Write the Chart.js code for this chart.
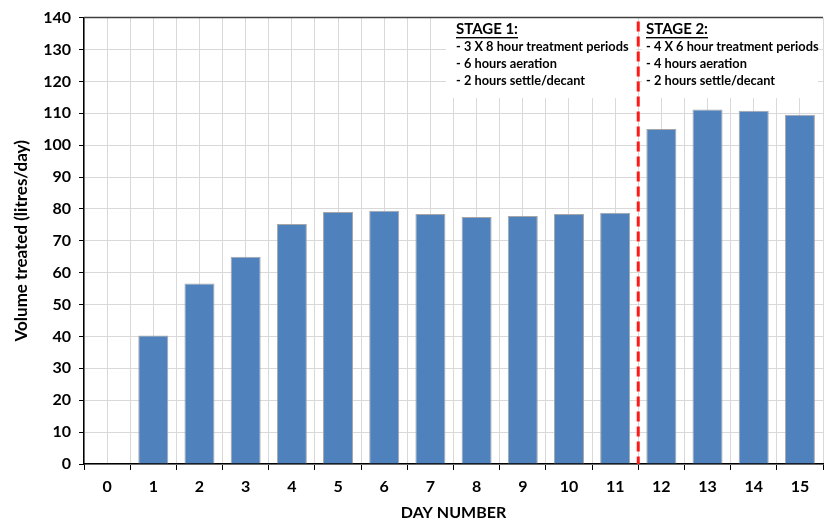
<!DOCTYPE html>
<html>
<head>
<meta charset="utf-8">
<script src="https://cdn.jsdelivr.net/npm/chart.js@4"></script>
<style>
  html, body { margin: 0; padding: 0; background: #fff; }
  #wrap { width: 824px; height: 524px; }
</style>
</head>
<body>
<div id="wrap"><canvas id="volumeChart" width="824" height="524"></canvas></div>
<script>
// 데이터
const days = ['0', '1', '2', '3', '4', '5', '6', '7', '8', '9', '10', '11', '12', '13', '14', '15'];
const volumeTreated = [null, 40.3, 56.6, 65.0, 75.3, 79.0, 79.4, 78.4, 77.5, 77.8, 78.4, 78.8, 105.1, 111.2, 110.8, 109.5];
const stage1Notes = ['STAGE 1:', '- 3 X 8 hour treatment periods', '- 6 hours aeration', '- 2 hours settle/decant'];
const stage2Notes = ['STAGE 2:', '- 4 X 6 hour treatment periods', '- 4 hours aeration', '- 2 hours settle/decant'];

const FONT = 'Lato, "Open Sans", sans-serif';
const gridColor = '#d9d9d9';

// 텍스트 박스와 빨간 점선
const stagePlugin = {
    id: 'stagePlugin',
    beforeDatasetsDraw(chart) {
        const ctx = chart.ctx;
        ctx.save();
        ctx.fillStyle = '#ffffff';
        ctx.fillRect(446, 18, 190, 80);
        ctx.fillRect(642, 18, 176, 80);
        ctx.restore();
    },
    afterDatasetsDraw(chart) {
        const ctx = chart.ctx;
        const area = chart.chartArea;
        const xs = chart.scales.x;
        ctx.save();
        // 위쪽 테두리
        ctx.strokeStyle = '#404040';
        ctx.lineWidth = 1.5;
        ctx.beginPath();
        ctx.moveTo(area.left, area.top);
        ctx.lineTo(area.right, area.top);
        ctx.stroke();

        // 단계 구분선
        const splitX = (xs.getPixelForValue(11) + xs.getPixelForValue(12)) / 2;
        ctx.strokeStyle = '#ff1a1a';
        ctx.lineWidth = 3;
        ctx.setLineDash([10, 5]);
        ctx.beginPath();
        ctx.moveTo(splitX, area.top + 4);
        ctx.lineTo(splitX, area.bottom);
        ctx.stroke();
        ctx.setLineDash([]);

        drawNotes(ctx, stage1Notes, 456);
        drawNotes(ctx, stage2Notes, 646);
        ctx.restore();
    }
};

function drawNotes(ctx, lines, x) {
    ctx.fillStyle = '#000';
    ctx.textAlign = 'left';
    ctx.textBaseline = 'middle';
    lines.forEach((line, i) => {
        const y = 29 + i * 17;
        if (i === 0) {
            ctx.font = 'bold 15px ' + FONT;
            ctx.fillText(line, x, y);
            const w = ctx.measureText(line).width;
            ctx.fillRect(x, y + 8, w, 1.4);
        } else {
            ctx.font = 'bold 12.8px ' + FONT;
            ctx.fillText(line, x, y + 1);
        }
    });
}

const ctx = document.getElementById('volumeChart').getContext('2d');
const volumeChart = new Chart(ctx, {
    type: 'bar',
    data: {
        labels: days,
        datasets: [{
            label: 'Volume treated',
            data: volumeTreated,
            backgroundColor: '#4f81bd',
            borderColor: '#a6a6a6',
            borderWidth: 1,
            barPercentage: 0.65,
            categoryPercentage: 1.0
        }]
    },
    options: {
        responsive: false,
        animation: false,
        layout: { padding: { top: 16, right: 1, left: 0, bottom: 0 } },
        plugins: {
            legend: { display: false },
            tooltip: { enabled: false }
        },
        scales: {
            x: {
                type: 'category',
                offset: true,
                grid: { offset: true, color: gridColor, tickColor: '#000', tickLength: 6 },
                border: { color: '#000', width: 1.5 },
                ticks: { color: '#000', font: { family: FONT, size: 16, weight: 'bold' }, padding: 7, maxRotation: 0 },
                title: {
                    display: true,
                    text: 'DAY NUMBER',
                    color: '#000',
                    font: { family: FONT, size: 16, weight: 'bold' },
                    padding: { top: 0, bottom: 2 }
                },
                afterFit(scale) { scale.height = 60; }
            },
            xc: {
                type: 'category',
                position: 'bottom',
                offset: true,
                grid: { offset: false, color: gridColor, drawTicks: false },
                border: { display: false },
                ticks: { display: false },
                afterFit(scale) { scale.height = 0; }
            },
            y: {
                min: 0,
                max: 140,
                ticks: {
                    stepSize: 5,
                    color: '#000',
                    font: { family: FONT, size: 16, weight: 'bold' },
                    padding: 8,
                    callback: (v) => (v % 10 === 0 ? v : '')
                },
                grid: {
                    color: (c) => (c.tick && c.tick.value % 10 === 0 ? gridColor : 'rgba(0,0,0,0)'),
                    tickColor: '#000',
                    tickLength: 5
                },
                border: { color: '#000', width: 1.5 },
                title: {
                    display: true,
                    text: 'Volume treated (litres/day)',
                    color: '#000',
                    font: { family: FONT, size: 17, weight: 'bold' },
                    padding: { top: 11, bottom: 0 }
                },
                afterFit(scale) { scale.width = 84; }
            }
        }
    },
    plugins: [stagePlugin]
});
</script>
</body>
</html>
